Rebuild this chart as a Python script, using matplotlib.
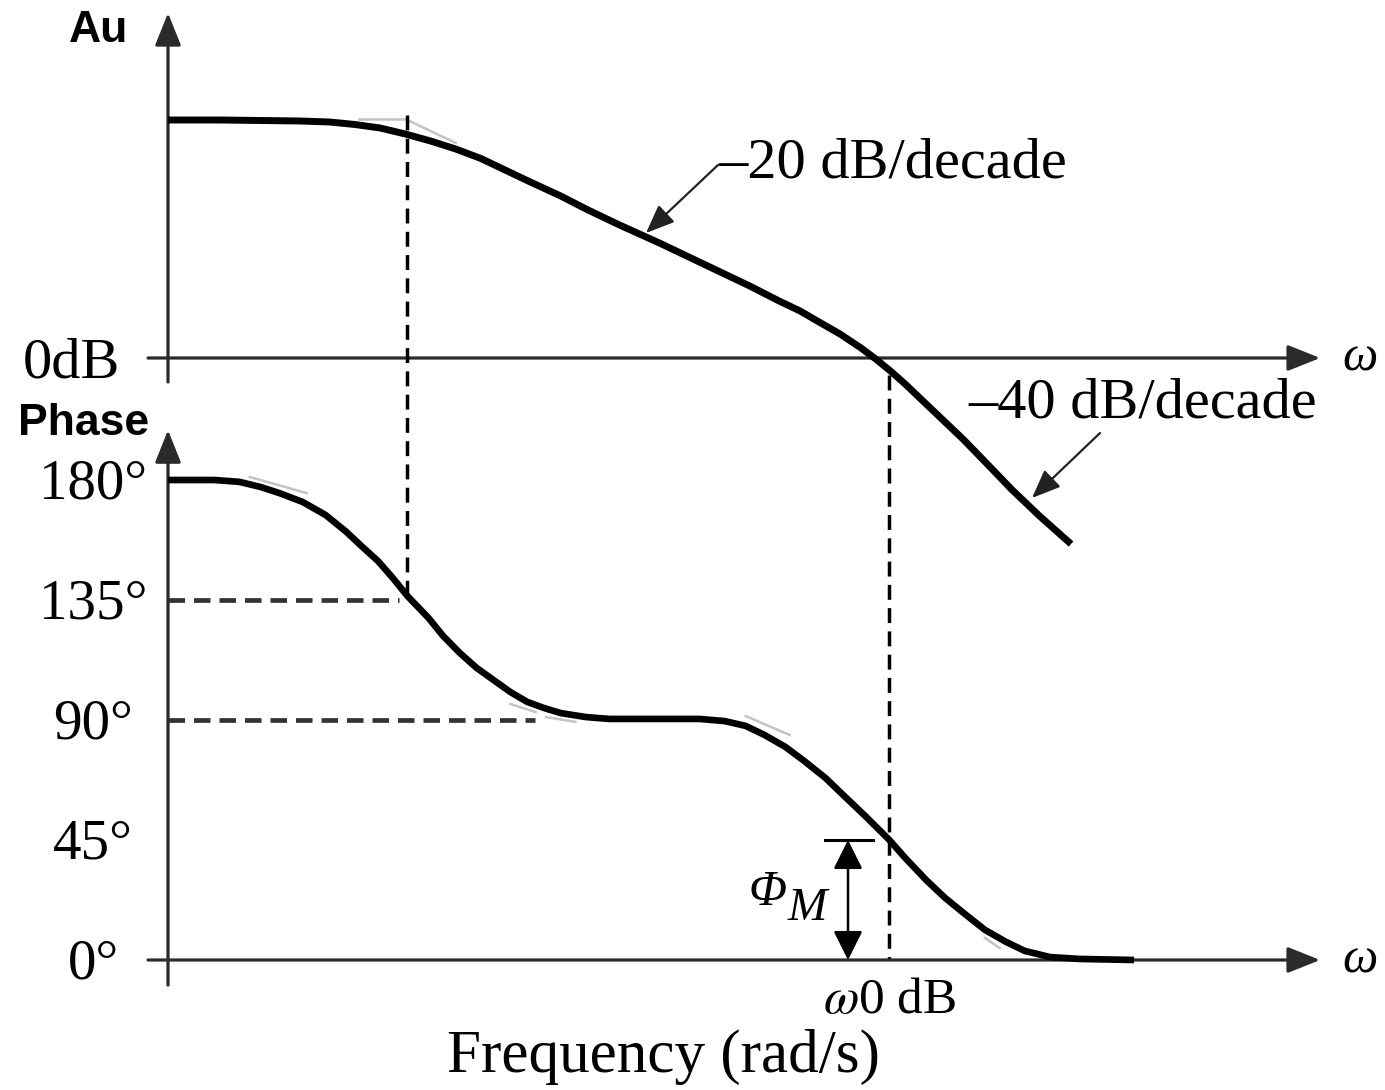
import matplotlib.pyplot as plt

# x axis is log10(omega), omega in rad/s (y axis sits at omega = 1)
LOG_W_GAIN = [0.00, 0.25, 0.44, 0.63, 0.77, 0.89, 1.01, 1.13, 1.25, 1.37,
              1.49, 1.60, 1.72, 1.87, 2.00, 2.15, 2.34, 2.49, 2.63, 2.77,
              2.91, 3.01, 3.10, 3.20, 3.30, 3.37, 3.44, 3.51, 3.58, 3.68,
              3.79, 3.91, 4.02, 4.15, 4.30]
GAIN_DB = [47.6, 47.6, 47.5, 47.4, 47.2, 46.7, 46.0, 44.8, 43.4, 41.8,
           39.9, 37.7, 35.3, 32.4, 29.6, 26.6, 23.0, 20.0, 17.2, 14.4,
           11.4, 9.4, 7.2, 4.8, 2.0, -0.2, -2.6, -5.2, -8.0, -12.0,
           -16.4, -21.6, -26.4, -31.6, -37.2]

LOG_W_PHASE = [0.00, 0.12, 0.22, 0.34, 0.44, 0.53, 0.64, 0.75, 0.85, 0.92,
               1.00, 1.07, 1.14, 1.19, 1.24, 1.31, 1.39, 1.47, 1.55, 1.63,
               1.71, 1.79, 1.87, 1.99, 2.10, 2.30, 2.53, 2.65, 2.75, 2.84,
               2.94, 3.03, 3.13, 3.22, 3.32, 3.435, 3.51, 3.61, 3.70, 3.80,
               3.89, 3.99, 4.08, 4.20, 4.34, 4.60]
PHASE_DEG = [180.0, 180.0, 180.0, 179.3, 177.4, 175.1, 171.8, 166.9, 160.5, 155.3,
             149.6, 143.3, 136.5, 132.4, 128.3, 121.5, 115.1, 109.5, 105.0, 100.5,
             96.8, 94.5, 92.6, 91.1, 90.4, 90.4, 90.4, 89.6, 87.8, 84.4,
             79.9, 74.6, 68.3, 61.5, 54.0, 45.0, 38.3, 30.0, 23.3, 16.9,
             11.3, 6.8, 3.4, 1.1, 0.4, 0.0]

# faint leftovers of the straight-line asymptotes
GAIN_ASYM_W = [(0.91, 1.14), (1.14, 1.37), (3.31, 3.49)]
GAIN_ASYM_DB = [(47.8, 47.8), (47.6, 43.0), (1.6, -4.0)]
PHASE_ASYM_W = [(0.39, 0.66), (1.63, 1.75), (1.80, 1.94), (2.75, 2.96), (3.89, 3.96)]
PHASE_ASYM_DEG = [(181.1, 175.1), (96.0, 93.0), (91.1, 89.3), (91.5, 84.4), (8.3, 4.5)]

PHASE_TICKS = [180, 135, 90, 45, 0]
PHASE_TICK_LABELS = ['180°', '135°', '90°', '45°', '0°']

W_CORNER = 1.14        # first pole, phase = 135 deg
W_0DB = 3.435          # unity gain crossover
PHASE_MARGIN = 45      # phase at crossover
GAIN_ASYMPTOTE_TOP = 48.6
SLOPE_LABELS = ['–20 dB/decade', '–40 dB/decade']

plt.rcParams['font.family'] = ['Liberation Serif', 'DejaVu Serif']
plt.rcParams['mathtext.fontset'] = 'stix'

fig = plt.figure(figsize=(13.85, 10.9), dpi=100)
ax_g = fig.add_axes([0, 0, 1, 1])
ax_p = ax_g.twinx()
ax_g.set_xlim(-0.8, 5.795)
ax_g.set_ylim(-146.4, 71.6)
ax_p.set_ylim(-48.75, 360)
ax_g.axis('off')
ax_p.axis('off')

AXIS_C = '#2a2a2a'


def axis_arrow(ax, start, end):
    ax.annotate('', xy=end, xytext=start, annotation_clip=False,
                arrowprops=dict(arrowstyle='-|>,head_length=1.0,head_width=0.4',
                                mutation_scale=20, lw=2.3, color=AXIS_C,
                                shrinkA=0, shrinkB=0))


def gain_to_phase(db):
    disp = ax_g.transData.transform((0, db))
    return ax_p.transData.inverted().transform(disp)[1]


# axes with arrows
axis_arrow(ax_g, (0, -4.8), (0, 69.0))
axis_arrow(ax_g, (-0.095, 0), (5.486, 0))
axis_arrow(ax_p, (0, -9.4), (0, 198.7))
axis_arrow(ax_p, (-0.095, 0), (5.486, 0))

ax_g.text(5.676, 0, 'ω', fontsize=36, style='italic', ha='center', va='center')
ax_p.text(5.676, 0, 'ω', fontsize=36, style='italic', ha='center', va='center')

# dashed guide lines
vdash = dict(color='black', lw=2.5, linestyle=(0, (4.3, 2.4)))
hdash = dict(color='#333333', lw=3.4, linestyle=(0, (3.5, 1.9)))
ax_p.plot([W_CORNER, W_CORNER], [gain_to_phase(GAIN_ASYMPTOTE_TOP), 135], **vdash)
ax_p.plot([W_0DB, W_0DB], [gain_to_phase(-3.4), 0], **vdash)
ax_p.plot([0, 1.10], [135, 135], **hdash)
ax_p.plot([0, 1.748], [90, 90], **hdash)

# asymptote remnants (light grey, under the curves)
for w, g in zip(GAIN_ASYM_W, GAIN_ASYM_DB):
    ax_g.plot(w, g, color='#c4c4c4', lw=1.8, zorder=2)
for w, p in zip(PHASE_ASYM_W, PHASE_ASYM_DEG):
    ax_p.plot(w, p, color='#c4c4c4', lw=1.8, zorder=2)

# curves
ax_g.plot(LOG_W_GAIN, GAIN_DB, color='black', lw=5.0, solid_capstyle='butt',
          solid_joinstyle='round', zorder=5)
ax_p.plot(LOG_W_PHASE, PHASE_DEG, color='black', lw=4.8, solid_capstyle='butt',
          solid_joinstyle='round', zorder=5)

# tick labels
for deg, lab in zip(PHASE_TICKS, PHASE_TICK_LABELS):
    ax_p.annotate(lab, xy=(-0.357, deg), xytext=(0, -13.5), textcoords='offset points',
                  ha='center', va='baseline', fontsize=41, annotation_clip=False)
ax_g.annotate('0dB', xy=(-0.462, 0), xytext=(0, -14), textcoords='offset points',
              ha='center', va='baseline', fontsize=42, annotation_clip=False)

# titles
ax_g.text(-0.329, 63.2, 'Au', fontsize=32, fontweight='bold',
          family=['Liberation Sans', 'DejaVu Sans'], ha='center', va='baseline')
ax_p.text(-0.714, 196.9, 'Phase', fontsize=32, fontweight='bold',
          family=['Liberation Sans', 'DejaVu Sans'], ha='left', va='baseline')

# slope annotations
small_arrow = dict(arrowstyle='-|>,head_length=1.1,head_width=0.45', mutation_scale=16,
                   lw=1.6, color='#222222', shrinkA=0, shrinkB=0)
ax_g.text(2.619, 36.0, SLOPE_LABELS[0], fontsize=42, ha='left', va='baseline')
ax_g.annotate('', xy=(2.276, 25.0), xytext=(2.619, 38.6), arrowprops=small_arrow)
ax_g.text(3.810, -12.0, SLOPE_LABELS[1], fontsize=42, ha='left', va='baseline')
ax_g.annotate('', xy=(4.114, -28.0), xytext=(4.438, -15.0), arrowprops=small_arrow,
              annotation_clip=False)

# phase margin
ax_p.plot([3.129, 3.357], [PHASE_MARGIN, PHASE_MARGIN], color='black', lw=2.2)
ax_p.annotate('', xy=(3.238, 0), xytext=(3.238, PHASE_MARGIN),
              arrowprops=dict(arrowstyle='<|-|>,head_length=1.0,head_width=0.5',
                              mutation_scale=18, lw=1.8, color='black',
                              shrinkA=0, shrinkB=0))
ax_p.text(2.762, 20.6, 'Φ', fontsize=36, style='italic', ha='left', va='baseline')
ax_p.text(2.948, 15.0, 'M', fontsize=34, style='italic', ha='left', va='baseline')

ax_p.text(W_0DB, -19.9, r'$\omega$0 dB', fontsize=37, ha='center', va='baseline')
ax_p.text(2.357, -42.0, 'Frequency (rad/s)', fontsize=44, ha='center', va='baseline')

plt.savefig('out.png', dpi=100)
plt.close()
